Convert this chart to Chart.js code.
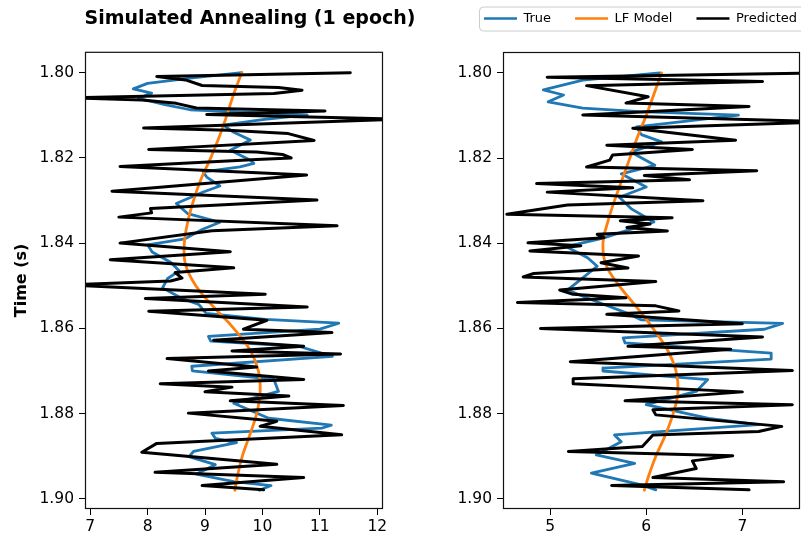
<!DOCTYPE html>
<html>
<head>
<meta charset="utf-8">
<script src="https://cdn.jsdelivr.net/npm/chart.js@4.4.1/dist/chart.umd.min.js"></script>
<style>
  html, body { margin: 0; padding: 0; background: #fff; overflow: hidden; }
  #wrap { position: relative; width: 801px; height: 539px; overflow: hidden; }
  canvas { position: absolute; top: 0; }
  #left { left: 0; }
  #right { left: 420px; }
</style>
</head>
<body>
<div id="wrap">
  <canvas id="left" width="500" height="539"></canvas>
  <canvas id="right" width="401" height="539"></canvas>
</div>
<script>
// ---- tick labels ----
const timeTicks = [1.80, 1.82, 1.84, 1.86, 1.88, 1.90];
const xTicksLeft = [7, 8, 9, 10, 11, 12];
const xTicksRight = [5, 6, 7];

// ---- LF model (smooth trend), both panels ----
const lfTime = [1.800, 1.805, 1.810, 1.815, 1.820, 1.825, 1.830, 1.835, 1.840, 1.845,
                1.850, 1.855, 1.860, 1.865, 1.870, 1.875, 1.880, 1.885, 1.890, 1.895, 1.898];
const lfLeft = [9.64, 9.50, 9.38, 9.25, 9.10, 8.93, 8.80, 8.70, 8.64, 8.66,
                8.84, 9.15, 9.50, 9.78, 9.93, 9.96, 9.90, 9.78, 9.65, 9.56, 9.52];
const lfRight = [6.16, 6.08, 6.00, 5.91, 5.83, 5.75, 5.67, 5.60, 5.55, 5.58,
                 5.72, 5.90, 6.07, 6.22, 6.31, 6.33, 6.28, 6.20, 6.10, 6.02, 5.98];

// ---- left panel: true log ----
const trueLeftTime = [
  1.8000, 1.8013, 1.8025, 1.8038, 1.8048, 1.8060, 1.8075, 1.8087, 1.8099, 1.8110,
  1.8123, 1.8140, 1.8158, 1.8182, 1.8206, 1.8213, 1.8221, 1.8233, 1.8245, 1.8266,
  1.8280, 1.8307, 1.8331, 1.8351, 1.8368, 1.8390, 1.8404, 1.8421, 1.8445, 1.8465,
  1.8483, 1.8505, 1.8530, 1.8544, 1.8565, 1.8579, 1.8588, 1.8602, 1.8619, 1.8630,
  1.8642, 1.8666, 1.8689, 1.8700, 1.8720, 1.8748, 1.8776, 1.8811, 1.8827, 1.8834,
  1.8846, 1.8858, 1.8868, 1.8889, 1.8901, 1.8920, 1.8942, 1.8960, 1.8969, 1.8980];
const trueLeft = [
  9.64, 8.74, 8.00, 7.75, 8.07, 7.84, 8.30, 8.74, 10.78, 10.00,
  9.32, 9.50, 9.79, 9.44, 9.80, 9.85, 9.61, 8.97, 9.03, 9.26,
  8.97, 8.50, 8.70, 9.26, 8.95, 8.65, 8.00, 8.08, 8.40, 8.55,
  8.35, 8.26, 8.60, 8.89, 9.02, 10.05, 11.33, 11.00, 9.06, 9.10,
  10.63, 11.22, 8.77, 8.78, 10.20, 10.28, 9.50, 10.11, 11.20, 11.04,
  9.12, 9.18, 9.55, 8.80, 8.72, 9.18, 8.85, 9.50, 10.15, 9.95];

// ---- left panel: predicted ----
const predLeftTime = [
  1.8000, 1.8009, 1.8017, 1.8030, 1.8035, 1.8041, 1.8049, 1.8059, 1.8064, 1.8072,
  1.8083, 1.8090, 1.8098, 1.8109, 1.8130, 1.8135, 1.8143, 1.8159, 1.8180, 1.8186,
  1.8192, 1.8200, 1.8204, 1.8220, 1.8240, 1.8278, 1.8299, 1.8319, 1.8329, 1.8339,
  1.8359, 1.8371, 1.8400, 1.8420, 1.8439, 1.8458, 1.8469, 1.8482, 1.8489, 1.8498,
  1.8520, 1.8530, 1.8550, 1.8560, 1.8581, 1.8602, 1.8610, 1.8628, 1.8642, 1.8653,
  1.8660, 1.8671, 1.8691, 1.8700, 1.8720, 1.8730, 1.8738, 1.8749, 1.8759, 1.8770,
  1.8781, 1.8799, 1.8818, 1.8830, 1.8850, 1.8870, 1.8891, 1.8919, 1.8938, 1.8950,
  1.8969, 1.8979];
const predLeft = [
  11.53, 8.16, 8.66, 8.95, 10.28, 10.69, 10.20, 6.60, 7.90, 8.50,
  8.85, 11.09, 9.03, 12.40, 7.93, 9.40, 10.45, 10.90, 8.02, 9.90,
  10.35, 10.50, 9.90, 7.52, 10.77, 7.38, 10.95, 8.05, 8.07, 7.50,
  11.30, 9.12, 7.52, 9.44, 7.35, 9.50, 8.48, 8.60, 8.40, 6.60,
  10.05, 7.96, 10.78, 8.02, 10.08, 9.67, 11.21, 9.15, 10.72, 9.47,
  11.36, 8.34, 9.90, 9.06, 10.72, 8.22, 9.47, 9.00, 10.46, 9.44,
  11.41, 8.71, 10.25, 9.96, 11.38, 8.16, 7.90, 10.25, 8.13, 10.72,
  8.95, 10.02];

// ---- right panel: true log ----
const trueRightTime = [
  1.8000, 1.8017, 1.8040, 1.8052, 1.8068, 1.8083, 1.8091, 1.8099, 1.8127, 1.8145,
  1.8162, 1.8186, 1.8217, 1.8237, 1.8268, 1.8292, 1.8320, 1.8350, 1.8388, 1.8408,
  1.8434, 1.8454, 1.8485, 1.8510, 1.8535, 1.8564, 1.8580, 1.8588, 1.8602, 1.8622,
  1.8634, 1.8658, 1.8672, 1.8693, 1.8700, 1.8720, 1.8748, 1.8779, 1.8811, 1.8826,
  1.8850, 1.8866, 1.8897, 1.8917, 1.8940, 1.8968, 1.8979];
const trueRight = [
  6.14, 5.34, 4.93, 5.14, 4.98, 5.34, 5.93, 6.96, 5.90, 5.95,
  6.16, 5.84, 6.09, 5.74, 6.00, 5.72, 5.85, 6.08, 5.55, 5.17,
  5.39, 5.49, 5.32, 5.18, 5.46, 5.80, 5.95, 7.42, 7.23, 5.76,
  5.78, 7.30, 7.30, 5.55, 5.55, 6.64, 6.52, 6.00, 6.65, 7.17,
  5.67, 5.74, 5.48, 5.88, 5.43, 5.96, 6.10];

// ---- right panel: predicted ----
const predRightTime = [
  1.8000, 1.8010, 1.8020, 1.8030, 1.8056, 1.8071, 1.8079, 1.8099, 1.8115, 1.8130,
  1.8158, 1.8170, 1.8180, 1.8193, 1.8205, 1.8221, 1.8230, 1.8241, 1.8251, 1.8260,
  1.8270, 1.8280, 1.8300, 1.8310, 1.8332, 1.8340, 1.8347, 1.8355, 1.8363, 1.8371,
  1.8379, 1.8387, 1.8399, 1.8406, 1.8418, 1.8430, 1.8446, 1.8458, 1.8471, 1.8479,
  1.8490, 1.8510, 1.8520, 1.8528, 1.8539, 1.8547, 1.8559, 1.8567, 1.8589, 1.8600,
  1.8620, 1.8642, 1.8649, 1.8678, 1.8699, 1.8718, 1.8730, 1.8749, 1.8770, 1.8779,
  1.8791, 1.8803, 1.8830, 1.8842, 1.8850, 1.8877, 1.8889, 1.8899, 1.8911, 1.8929,
  1.8950, 1.8960, 1.8969, 1.8979];
const predRight = [
  7.80, 4.97, 7.21, 5.38, 6.02, 5.79, 7.07, 5.34, 7.90, 5.86,
  6.93, 5.59, 6.48, 5.65, 5.62, 5.38, 7.15, 5.98, 6.45, 4.86,
  5.86, 4.97, 6.59, 5.18, 4.55, 6.27, 5.73, 6.04, 5.80, 6.22,
  5.49, 5.56, 4.77, 5.32, 4.79, 5.92, 5.53, 5.81, 4.83, 4.72,
  6.10, 5.10, 5.24, 5.79, 4.66, 6.10, 6.34, 5.59, 7.00, 4.90,
  7.21, 5.81, 6.88, 5.21, 7.52, 5.24, 5.24, 7.00, 5.78, 7.52,
  6.07, 6.10, 7.41, 7.17, 6.07, 5.96, 5.19, 6.90, 6.48, 6.52,
  6.07, 7.43, 5.64, 7.07];

Chart.defaults.font.family = 'DejaVu Sans';
Chart.defaults.color = '#000';

const toPoints = (times, xs) => times.map((t, i) => ({ x: xs[i], y: t }));

const lineStyle = (color, width) => ({
    borderColor: color,
    backgroundColor: color,
    borderWidth: width,
    pointRadius: 0,
    pointHoverRadius: 0,
    showLine: true,
    fill: false,
    borderJoinStyle: 'round',
    borderCapStyle: 'round'
});

// matplotlib style frame around the plot area
const boxPlugin = {
    id: 'box',
    afterDatasetsDraw(chart) {
        const a = chart.chartArea;
        const ctx = chart.ctx;
        ctx.save();
        ctx.strokeStyle = '#111';
        ctx.lineWidth = 1.2;
        ctx.strokeRect(a.left + 0.5, a.top + 0.5, a.right - a.left - 1, a.bottom - a.top - 1);
        ctx.restore();
    }
};

// rounded frame behind the legend
const legendFrame = {
    id: 'legendFrame',
    beforeDraw(chart) {
        const lg = chart.legend;
        if (!lg || !lg.options.display || !lg.legendHitBoxes.length) return;
        const boxes = lg.legendHitBoxes;
        const first = boxes[0];
        const last = boxes[boxes.length - 1];
        const x0 = first.left - 5;
        const x1 = last.left + last.width + 8;
        const cy = first.top + first.height / 2;
        const ctx = chart.ctx;
        ctx.save();
        ctx.beginPath();
        ctx.roundRect(x0 + 0.5, cy - 12 + 0.5, x1 - x0, 24, 4);
        ctx.fillStyle = '#fff';
        ctx.fill();
        ctx.strokeStyle = '#cccccc';
        ctx.lineWidth = 1;
        ctx.stroke();
        ctx.restore();
    }
};

function makeDatasets(trueTime, trueVals, lfVals, predTime, predVals) {
    return [
        { label: 'True', data: toPoints(trueTime, trueVals), ...lineStyle('#1f77b4', 2.8), order: 2 },
        { label: 'LF Model', data: toPoints(lfTime, lfVals), ...lineStyle('#ff7f0e', 2.8), order: 1, tension: 0.4 },
        { label: 'Predicted', data: toPoints(predTime, predVals), ...lineStyle('#000000', 3), order: 0 }
    ];
}

const tickGrid = { display: true, drawOnChartArea: false, drawTicks: true, tickLength: 6, color: '#000', lineWidth: 1 };

function padAxis(position, size) {
    return {
        type: 'linear',
        position: position,
        display: true,
        ticks: { display: false },
        grid: { display: false },
        border: { display: false },
        afterFit: s => {
            if (position === 'top') s.height = size; else s.width = size;
        }
    };
}

function makeScales(xMin, xMax, xTicks, yWidth, withTitle) {
    return {
        x: {
            type: 'linear',
            position: 'bottom',
            min: xMin,
            max: xMax,
            afterBuildTicks: s => { s.ticks = xTicks.map(v => ({ value: v })); },
            afterFit: s => { s.height = 30; },
            ticks: { font: { size: 15.5 }, color: '#000', padding: 3, maxRotation: 0, callback: v => String(v) },
            grid: tickGrid,
            border: { display: false }
        },
        y: {
            type: 'linear',
            position: 'left',
            reverse: true,
            min: 1.7951,
            max: 1.9024,
            afterBuildTicks: s => { s.ticks = timeTicks.map(v => ({ value: v })); },
            afterFit: s => { s.width = yWidth; },
            ticks: { font: { size: 15.5 }, color: '#000', padding: 5, callback: v => Number(v).toFixed(2) },
            grid: tickGrid,
            border: { display: false },
            title: {
                display: withTitle,
                text: 'Time (s)',
                color: '#000',
                font: { size: 16, weight: 'bold' },
                padding: { top: 12, bottom: 0 }
            }
        }
    };
}

// left panel
new Chart(document.getElementById('left'), {
    type: 'scatter',
    data: { datasets: makeDatasets(trueLeftTime, trueLeft, lfLeft, predLeftTime, predLeft) },
    options: {
        responsive: false,
        animation: false,
        layout: { padding: 0 },
        scales: { ...makeScales(6.91, 12.1, xTicksLeft, 85, true), padR: padAxis('right', 117) },
        plugins: {
            legend: { display: false },
            tooltip: { enabled: false },
            title: {
                display: true,
                text: 'Simulated Annealing (1 epoch)',
                color: '#000',
                font: { size: 19, weight: 'bold' },
                padding: { top: 8, bottom: 21 }
            }
        }
    },
    plugins: [boxPlugin]
});

// right panel
new Chart(document.getElementById('right'), {
    type: 'scatter',
    data: { datasets: makeDatasets(trueRightTime, trueRight, lfRight, predRightTime, predRight) },
    options: {
        responsive: false,
        animation: false,
        layout: { padding: { top: -12 } },
        scales: {
            ...makeScales(4.51, 7.6, xTicksRight, 83, false),
            padR: padAxis('right', 21),
            padT: padAxis('top', 17)
        },
        plugins: {
            tooltip: { enabled: false },
            title: { display: false },
            legend: {
                display: true,
                position: 'top',
                align: 'end',
                labels: {
                    boxWidth: 33,
                    boxHeight: 2.5,
                    padding: 24,
                    color: '#000',
                    font: { size: 13 },
                    generateLabels: chart => Chart.defaults.plugins.legend.labels.generateLabels(chart)
                        .map(item => ({ ...item, lineWidth: 0 })),
                    sort: (a, b) => a.datasetIndex - b.datasetIndex
                }
            }
        }
    },
    plugins: [boxPlugin, legendFrame]
});
</script>
</body>
</html>
